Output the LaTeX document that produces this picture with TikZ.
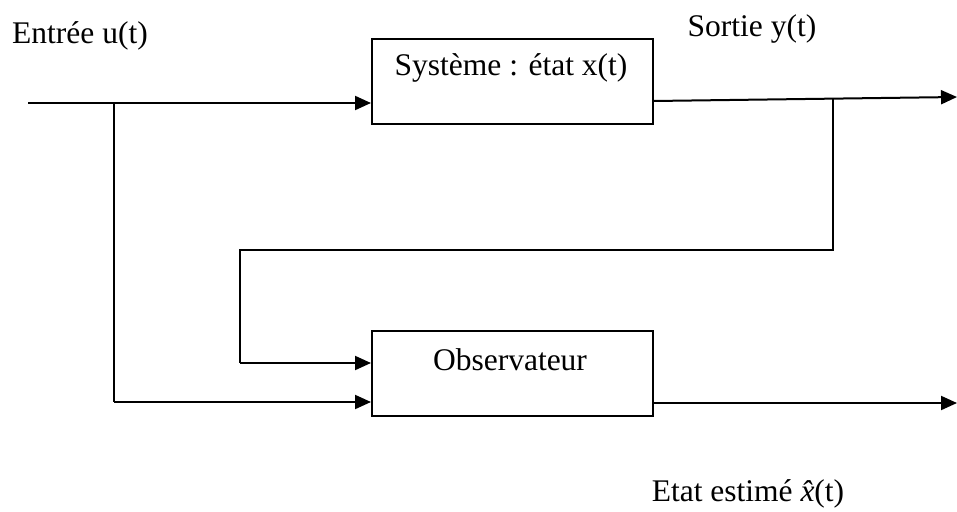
\documentclass[tikz,border=0pt]{standalone}
\usepackage{fontspec}
\setmainfont{Liberation Serif}
\usetikzlibrary{arrows.meta}
\begin{document}
\begin{tikzpicture}[x=1pt,y=-1pt,
  every node/.style={font=\fontsize{31.5}{36}\selectfont},
  blockbox/.style={draw,line width=1.6pt,minimum width=281pt,minimum height=85pt,inner sep=0pt,anchor=north west},
  sig/.style={line width=2pt,-{Triangle[length=16pt,width=14pt]}},
  wire/.style={line width=1.6pt},
  lbl/.style={inner sep=0pt}]
\useasboundingbox (0,0) rectangle (957,511);
% blocks
\node[blockbox] (sys) at (371,38) {};
\node[lbl] (systxt) at (511,68) {Système : état x(t)};
\node[blockbox] (obs) at (371,330) {};
\node[lbl] (obstxt) at (510,360) {Observateur};
% labels
\node[lbl,anchor=west] (ulbl) at (12,36) {Entrée u(t)};
\node[lbl] (ylbl) at (752,29) {Sortie y(t)};
\node[lbl] (xlbl) at (748,494) {Etat estimé {\itshape\^x}(t)};
% junction points and free ends
\coordinate (uin) at (28,103);
\coordinate (ubr) at (114,103);
\coordinate (yout) at (957,97);
\coordinate (ybr) at (833,98.5);
\coordinate (xout) at (957,403);
% input to system, branch to observer
\draw[sig] (uin) -- (sys.west |- uin);
\draw[wire] (ubr) -- (114,402);
\draw[sig] (114,402) -- (obs.west |- 0,402);
% system output and feedback of y to observer
\draw[sig] (sys.east |- 0,101) -- (yout);
\draw[wire] (ybr) -- (833,250) -- (240,250) -- (240,363);
\draw[sig] (240,363) -- (obs.west |- 0,363);
% estimated state
\draw[sig] (obs.east |- xout) -- (xout);
\end{tikzpicture}
\end{document}
